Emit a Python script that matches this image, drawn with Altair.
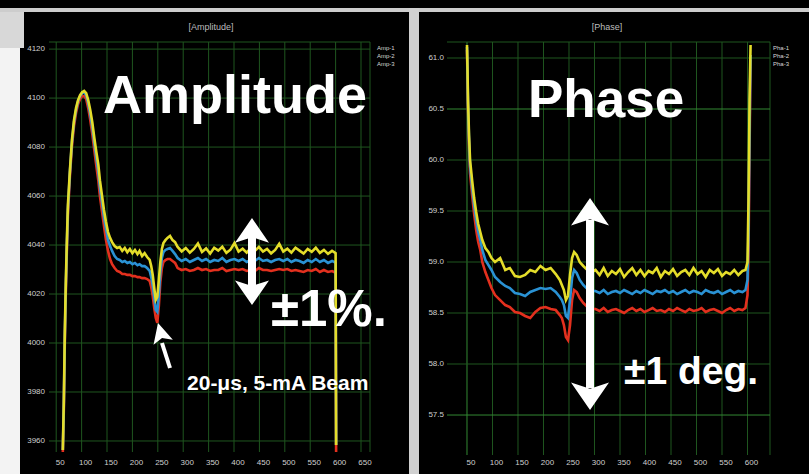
import altair as alt
import pandas as pd

W, H = 809, 474
FONT = "Liberation Sans"
YELLOW, BLUE, RED = "#e4dd2a", "#2a92d4", "#e3301e"
GRID = "#1f561f"
GRID_BRIGHT = "#338833"
LABEL = "#cfcfcf"

# ---------------- Amplitude panel ----------------
amp_xticks = [50, 100, 150, 200, 250, 300, 350, 400, 450, 500, 550, 600, 650]
amp_yticks = [4120, 4100, 4080, 4060, 4040, 4020, 4000, 3980, 3960]
amp_x_dom, amp_x_rng = [35.8, 667.7], [49, 370]
amp_y_dom, amp_y_rng = [3955.5, 4122.9], [452, 42]

amp_t = ([63, 65, 67, 69, 71, 73, 77, 81, 85, 89, 93, 97, 101, 105, 109, 113, 117, 121,
          125, 129, 133, 136, 140, 144, 148, 152, 156, 160,
          165, 170, 175, 180, 185, 190, 195, 200, 205, 210, 214, 219, 224, 229, 234,
          237, 240, 243, 246, 249, 252, 255, 258, 261,
          265, 269, 274, 279, 284]
         + list(range(289, 595, 8)) + [597, 600, 601])

amp_yellow = [3956.3, 3976.7, 4005.3, 4025.7, 4042.0, 4056.3, 4070.6, 4082.9, 4091.0, 4095.9,
              4099.2, 4101.2, 4102.4, 4102.9, 4102.0, 4099.2, 4095.1, 4090.2, 4083.7, 4078.0,
              4072.7, 4066.5, 4060.4, 4054.3, 4049.4, 4045.3, 4042.9, 4041.2,
              4039.6, 4038.8, 4039.2, 4037.6, 4038.8, 4037.1, 4038.4, 4036.7, 4038.0, 4036.3,
              4037.6, 4035.5, 4036.7, 4035.1, 4033.9,
              4031.4, 4027.8, 4022.4, 4017.6, 4018.8, 4025.7, 4033.1, 4038.4, 4040.8,
              4042.0, 4042.9, 4043.7, 4042.0, 4041.2,
              4039.2, 4037.4, 4038.8, 4036.9, 4038.4, 4040.6, 4037.2, 4038.6, 4036.5, 4038.9,
              4037.7, 4039.3, 4036.8, 4038.1, 4040.8, 4037.3, 4038.5, 4036.9, 4038.8, 4037.6,
              4039.2, 4037.3, 4038.4, 4036.6, 4038.0, 4040.5, 4037.3, 4038.5, 4036.9, 4038.9,
              4037.7, 4036.5, 4038.4, 4037.2, 4038.9, 4036.8, 4038.0, 4036.4, 4037.6,
              4037.1, 4036.7, 3958.4]

amp_blue = [3956.3, 3974.7, 4003.3, 4023.7, 4040.0, 4054.3, 4069.8, 4082.0, 4090.2, 4095.1,
            4098.8, 4100.8, 4102.0, 4102.4, 4101.2, 4098.0, 4093.5, 4088.2, 4081.6, 4075.5,
            4069.8, 4063.7, 4057.6, 4051.4, 4046.5, 4042.0, 4039.6, 4037.6,
            4035.5, 4034.3, 4033.9, 4033.1, 4033.5, 4032.7, 4033.1, 4032.2, 4032.7, 4031.8,
            4032.2, 4031.4, 4031.4, 4030.6, 4029.4,
            4026.9, 4023.3, 4018.4, 4013.5, 4012.7, 4019.6, 4029.0, 4034.7, 4037.1,
            4038.0, 4038.4, 4038.8, 4037.6, 4036.3,
            4034.7, 4033.5, 4034.3, 4033.1, 4033.9, 4034.7, 4033.5, 4034.3, 4033.1, 4033.9,
            4033.5, 4034.7, 4033.1, 4033.9, 4034.3, 4033.5, 4034.3, 4033.1, 4033.9, 4033.5,
            4034.7, 4033.5, 4033.9, 4033.1, 4033.9, 4034.3, 4033.5, 4034.3, 4033.1, 4033.9,
            4033.5, 4032.7, 4033.9, 4033.1, 4034.3, 4033.1, 4033.9, 4032.7, 4033.5,
            4033.1, 4032.7, 3958.4]

amp_red = [3955.5, 3972.7, 4001.2, 4021.6, 4038.0, 4052.2, 4068.2, 4080.4, 4088.6, 4093.9,
           4097.6, 4099.6, 4100.8, 4100.8, 4099.6, 4095.9, 4091.0, 4085.3, 4078.8, 4072.2,
           4066.1, 4060.0, 4053.9, 4047.8, 4042.0, 4037.6, 4034.3, 4032.2,
           4030.6, 4029.4, 4029.0, 4028.2, 4028.2, 4027.8, 4027.8, 4027.3, 4027.3, 4026.9,
           4026.9, 4026.5, 4026.5, 4026.1, 4025.3,
           4022.9, 4019.2, 4014.3, 4010.2, 4008.2, 4015.1, 4024.9, 4030.6, 4033.1,
           4033.9, 4034.3, 4034.3, 4033.5, 4032.7,
           4030.6, 4029.8, 4030.2, 4029.4, 4029.8, 4030.6, 4029.8, 4030.2, 4029.4, 4029.8,
           4029.8, 4030.6, 4029.4, 4029.8, 4030.2, 4029.8, 4030.2, 4029.4, 4029.8, 4029.4,
           4030.6, 4029.8, 4029.8, 4029.4, 4029.8, 4030.2, 4029.8, 4030.2, 4029.4, 4029.8,
           4029.4, 4029.0, 4029.8, 4029.4, 4030.2, 4029.0, 4029.8, 4029.0, 4029.4,
           4029.0, 4028.6, 3955.5]

# ---------------- Phase panel ----------------
ph_xticks = [50, 100, 150, 200, 250, 300, 350, 400, 450, 500, 550, 600]
ph_yticks = [61.0, 60.5, 60.0, 59.5, 59.0, 58.5, 58.0, 57.5]
ph_x_dom, ph_x_rng = [10.8, 644.1], [447, 770]
ph_y_dom, ph_y_rng = [57.108, 61.157], [455, 42]

ph_t = ([50, 51, 52, 54, 56, 60, 64, 68, 72, 76, 80, 86, 92, 98, 105, 115, 125, 134, 144, 154,
         164, 174, 184, 194, 204, 214, 224, 232, 236, 240, 244, 248, 252, 256, 260, 265, 271,
         278, 286, 294]
        + list(range(302, 591, 8)) + [596, 600, 602, 604, 606])

ph_yellow = [61.127, 60.882, 60.588, 60.245, 60.000, 59.804, 59.627, 59.490, 59.373, 59.294,
             59.216, 59.137, 59.098, 59.039, 59.000, 59.039, 58.922, 58.941, 58.863, 58.853,
             58.873, 58.922, 58.902, 58.961, 58.922, 58.941, 58.882, 58.824, 58.775, 58.725,
             58.627, 58.667, 58.873, 59.039, 59.098, 59.069, 59.000, 58.961, 58.922, 58.902,
             58.922, 58.873, 58.941, 58.863, 58.912, 58.882, 58.931, 58.853, 58.902, 58.941,
             58.873, 58.922, 58.863, 58.912, 58.892, 58.941, 58.853, 58.912, 58.882, 58.931,
             58.863, 58.902, 58.922, 58.873, 58.941, 58.882, 58.912, 58.853, 58.922, 58.892,
             58.931, 58.863, 58.902, 58.882, 58.922, 58.873, 58.912,
             58.922, 59.000, 59.608, 60.588, 61.127]

ph_blue = [61.108, 60.853, 60.549, 60.196, 59.941, 59.735, 59.559, 59.412, 59.294, 59.216,
           59.118, 59.020, 58.971, 58.922, 58.853, 58.804, 58.765, 58.745, 58.696, 58.686,
           58.667, 58.706, 58.725, 58.745, 58.735, 58.745, 58.706, 58.657, 58.627, 58.578,
           58.471, 58.451, 58.627, 58.843, 58.922, 58.892, 58.824, 58.775, 58.735, 58.716,
           58.716, 58.696, 58.725, 58.686, 58.706, 58.716, 58.696, 58.725, 58.706, 58.686,
           58.716, 58.696, 58.725, 58.706, 58.686, 58.716, 58.706, 58.725, 58.696, 58.716,
           58.686, 58.706, 58.725, 58.696, 58.716, 58.706, 58.686, 58.725, 58.706, 58.696,
           58.716, 58.686, 58.706, 58.725, 58.696, 58.716, 58.706,
           58.725, 58.824, 59.314, 60.294, 61.029]

ph_red = [61.078, 60.804, 60.490, 60.127, 59.873, 59.657, 59.471, 59.314, 59.196, 59.118,
          59.000, 58.902, 58.824, 58.745, 58.676, 58.627, 58.578, 58.559, 58.510, 58.500,
          58.471, 58.451, 58.510, 58.549, 58.559, 58.539, 58.529, 58.480, 58.451, 58.382,
          58.265, 58.235, 58.382, 58.627, 58.725, 58.706, 58.647, 58.598, 58.559, 58.539,
          58.539, 58.520, 58.549, 58.510, 58.529, 58.539, 58.520, 58.500, 58.529, 58.549,
          58.520, 58.539, 58.510, 58.529, 58.549, 58.520, 58.529, 58.510, 58.539, 58.520,
          58.549, 58.529, 58.510, 58.539, 58.520, 58.529, 58.549, 58.510, 58.529, 58.539,
          58.520, 58.500, 58.529, 58.549, 58.520, 58.539, 58.529,
          58.549, 58.676, 59.118, 60.098, 60.980]

for s in (amp_yellow, amp_blue, amp_red):
    assert len(s) == len(amp_t), len(s)
for s in (ph_yellow, ph_blue, ph_red):
    assert len(s) == len(ph_t), len(s)

series_names = ["red", "blue", "yellow"]
series_colors = [RED, BLUE, YELLOW]
legend_amp = ["Amp-1", "Amp-2", "Amp-3"]
legend_ph = ["Pha-1", "Pha-2", "Pha-3"]
legend_rows = [48, 56, 64]

# annotation texts (position in data units of each panel)
amp_notes = pd.DataFrame({
    "text": ["Amplitude", "±1%.", "20-μs, 5-mA Beam"],
    "t": [142.1, 472.8, 307.5],
    "v": [4093.9, 4006.9, 3980.8],
    "size": [54, 51, 21],
})
ph_notes = pd.DataFrame({
    "text": ["Phase", "±1 deg."],
    "t": [169.6, 357.8],
    "v": [60.421, 57.804],
    "size": [53, 39],
})

# double arrows: position, tip values, shaft end values
amp_arrow_t, amp_arrow_top, amp_arrow_bot = 435.4, 4051.0, 4015.5
amp_shaft_top, amp_shaft_bot = 4044.1, 4022.4
ph_arrow_t, ph_arrow_top, ph_arrow_bot = 291.2, 59.627, 57.549
ph_shaft_top, ph_shaft_bot = 59.412, 57.765
# pointer to the beam-loading dip
beam_tip = (250.4, 4008.2)
beam_base = (258.2, 4000.0)
beam_tail = (274.0, 3989.8)

HEAD_UP = "M0,0 L1,1.45 L0,1.12 L-1,1.45 Z"
HEAD_DOWN = "M0,0 L1,-1.45 L0,-1.12 L-1,-1.45 Z"
HEAD_SMALL = "M0,0 L1,2.0 L0,1.55 L-1,2.0 Z"


def long_df(t, cols):
    frames = []
    for name, vals in cols:
        frames.append(pd.DataFrame({"t": t, "v": vals, "s": name}))
    return pd.concat(frames, ignore_index=True)


def panel(xs, ys, x_dom, y_dom, xticks, yticks, ylabels, traces, notes,
          arrow, title, title_x, legend_x, legend_labels, bright_h, bright_v,
          ylab_x, extra=None):
    X = lambda f: alt.X(f, scale=xs, axis=None)
    Y = lambda f: alt.Y(f, scale=ys, axis=None)

    vt = xticks + [x_dom[1]]
    hv = yticks + [y_dom[1]]
    vg = pd.DataFrame({"t": vt, "lo": y_dom[0], "hi": y_dom[1]})
    hg = pd.DataFrame({"v": hv, "x0": x_dom[0], "x1": x_dom[1]})
    vg_b = vg[vg["t"].isin(bright_v)]
    vg_d = vg[~vg["t"].isin(bright_v)]
    hg_b = hg[hg["v"].isin(bright_h)]
    hg_d = hg[~hg["v"].isin(bright_h)]

    grid = []
    for df, col in ((vg_d, GRID), (vg_b, GRID_BRIGHT)):
        if len(df):
            grid.append(alt.Chart(df).mark_rule(strokeWidth=1, color=col).encode(
                x=X("t:Q"), y=Y("lo:Q"), y2="hi:Q"))
    for df, col in ((hg_d, GRID), (hg_b, GRID_BRIGHT)):
        if len(df):
            grid.append(alt.Chart(df).mark_rule(strokeWidth=1, color=col).encode(
                y=Y("v:Q"), x=X("x0:Q"), x2="x1:Q"))

    lines = alt.Chart(traces).mark_line(strokeWidth=2.6).encode(
        x=X("t:Q"), y=Y("v:Q"),
        color=alt.Color("s:N", scale=alt.Scale(domain=series_names, range=series_colors),
                        legend=None),
        detail="s:N")

    ylab = alt.Chart(pd.DataFrame({"v": yticks, "lab": ylabels})).mark_text(
        align="right", baseline="middle", font=FONT, fontSize=8, color=LABEL).encode(
        x=alt.value(ylab_x), y=Y("v:Q"), text="lab:N")
    xlab = alt.Chart(pd.DataFrame({"t": xticks, "lab": [str(t) for t in xticks]})).mark_text(
        align="center", baseline="middle", font=FONT, fontSize=8, color=LABEL, dx=4).encode(
        x=X("t:Q"), y=alt.value(463), text="lab:N")

    ttl = alt.Chart(pd.DataFrame({"text": [title]})).mark_text(
        align="center", baseline="middle", font=FONT, fontSize=9, color="#bdbdbd").encode(
        x=alt.value(title_x), y=alt.value(27), text="text:N")
    leg = [
        alt.Chart(pd.DataFrame({"text": [lab]})).mark_text(
            align="left", baseline="middle", font=FONT, fontSize=6, color="#d8d8d8").encode(
            x=alt.value(legend_x), y=alt.value(row), text="text:N")
        for lab, row in zip(legend_labels, legend_rows)
    ]

    at, atop, abot, stop, sbot, hsize = arrow
    shaft = alt.Chart(pd.DataFrame({"t": [at], "a": [stop], "b": [sbot]})).mark_rule(
        color="white", strokeWidth=8).encode(x=X("t:Q"), y=Y("a:Q"), y2="b:Q")
    head_up = alt.Chart(pd.DataFrame({"t": [at], "v": [atop]})).mark_point(
        shape=HEAD_UP, size=hsize, filled=True, color="white", opacity=1).encode(
        x=X("t:Q"), y=Y("v:Q"))
    head_dn = alt.Chart(pd.DataFrame({"t": [at], "v": [abot]})).mark_point(
        shape=HEAD_DOWN, size=hsize, filled=True, color="white", opacity=1).encode(
        x=X("t:Q"), y=Y("v:Q"))

    txt = alt.Chart(notes).mark_text(
        align="left", baseline="alphabetic", font=FONT, fontWeight="bold",
        color="white").encode(
        x=X("t:Q"), y=Y("v:Q"), text="text:N",
        size=alt.Size("size:Q", scale=None, legend=None))

    layers = grid + [lines, ylab, xlab, ttl] + leg + [shaft, head_up, head_dn, txt]
    if extra:
        layers += extra(X, Y)
    return alt.layer(*layers)


def beam_pointer(X, Y):
    shaft = alt.Chart(pd.DataFrame({"t": [beam_tail[0]], "v": [beam_tail[1]],
                                    "t2": [beam_base[0]], "v2": [beam_base[1]]})).mark_rule(
        color="white", strokeWidth=4).encode(x=X("t:Q"), y=Y("v:Q"), x2="t2:Q", y2="v2:Q")
    head = alt.Chart(pd.DataFrame({"t": [beam_tip[0]], "v": [beam_tip[1]]})).mark_point(
        shape=HEAD_SMALL, size=400, angle=345, filled=True, color="white", opacity=1).encode(
        x=X("t:Q"), y=Y("v:Q"))
    return [shaft, head]


amp_xs = alt.Scale(domain=amp_x_dom, range=amp_x_rng, nice=False, zero=False)
amp_ys = alt.Scale(domain=amp_y_dom, range=amp_y_rng, nice=False, zero=False)
ph_xs = alt.Scale(domain=ph_x_dom, range=ph_x_rng, nice=False, zero=False)
ph_ys = alt.Scale(domain=ph_y_dom, range=ph_y_rng, nice=False, zero=False)

amp_traces = long_df(amp_t, [("red", amp_red), ("blue", amp_blue), ("yellow", amp_yellow)])
ph_traces = long_df(ph_t, [("red", ph_red), ("blue", ph_blue), ("yellow", ph_yellow)])

amp_panel = panel(amp_xs, amp_ys, amp_x_dom, amp_y_dom, amp_xticks, amp_yticks,
                  [str(v) for v in amp_yticks], amp_traces, amp_notes,
                  (amp_arrow_t, amp_arrow_top, amp_arrow_bot, amp_shaft_top, amp_shaft_bot, 1156),
                  "[Amplitude]", 211, 377, legend_amp, [], [], 45, extra=beam_pointer)
ph_panel = panel(ph_xs, ph_ys, ph_x_dom, ph_y_dom, ph_xticks, ph_yticks,
                 [f"{v:.1f}" for v in ph_yticks], ph_traces, ph_notes,
                 (ph_arrow_t, ph_arrow_top, ph_arrow_bot, ph_shaft_top, ph_shaft_bot, 1444),
                 "[Phase]", 607, 773, legend_ph, [60.5, 57.5], [50], 444)

# window frame around the two scope panels
frame = pd.DataFrame({
    "x": [0, 0, 0, 409], "x2": [20, 24, 809, 419],
    "y": [12, 10, 8, 8], "y2": [474, 48, 12, 474],
    "c": ["#f3f3f3", "#d8d8d8", "#cdcdcd", "#d0d0d0"],
})
frame_layers = [
    alt.Chart(frame.iloc[[i]]).mark_rect(color=frame["c"][i]).encode(
        x=alt.value(int(frame["x"][i])), x2=alt.value(int(frame["x2"][i])),
        y=alt.value(int(frame["y"][i])), y2=alt.value(int(frame["y2"][i])))
    for i in range(len(frame))
]

chart = alt.layer(
    alt.layer(*frame_layers), amp_panel, ph_panel
).resolve_scale(x="independent", y="independent").properties(
    width=W, height=H, background="black", padding=0, autosize="none"
).configure_view(strokeWidth=0)

chart.save("out.html", embed_options={"renderer": "svg", "actions": False})
